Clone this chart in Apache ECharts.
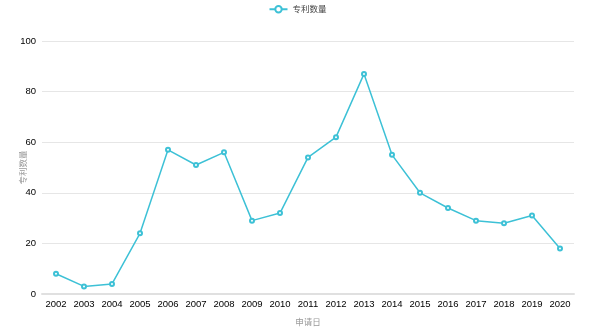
<!DOCTYPE html>
<html>
<head>
<meta charset="utf-8">
<script src="https://cdn.jsdelivr.net/npm/echarts@6/dist/echarts.min.js"></script>
<style>
  html, body { margin: 0; padding: 0; background: #fff; }
  #chart { width: 595px; height: 335px; }
</style>
</head>
<body>
<div id="chart"></div>
<script>
// Patent filings per application year
const years = ['2002', '2003', '2004', '2005', '2006', '2007', '2008', '2009', '2010', '2011',
               '2012', '2013', '2014', '2015', '2016', '2017', '2018', '2019', '2020'];
const patentCounts = [8, 3, 4, 24, 57, 51, 56, 29, 32, 54, 62, 87, 55, 40, 34, 29, 28, 31, 18];
const seriesName = '专利数量';
const xAxisName = '申请日';
const yAxisName = '专利数量';
const yTicks = { min: 0, max: 100, interval: 20 };

const lineColor = '#3dc1d6';
const cjkFont = '"Noto Sans CJK SC", "Noto Sans", sans-serif';
const numFont = '"Liberation Sans", Arial, sans-serif';

const chart = echarts.init(document.getElementById('chart'), null, { renderer: 'canvas' });
chart.setOption({
  animation: false,
  textStyle: { fontFamily: cjkFont },
  legend: {
    top: 0,
    left: 'center',
    itemWidth: 18,
    itemHeight: 8,
    textStyle: { fontSize: 8.5, color: '#444', fontFamily: cjkFont },
    data: [seriesName]
  },
  grid: { left: 42, right: 21, top: 41, bottom: 41, containLabel: false, outerBoundsMode: 'none' },
  xAxis: {
    type: 'category',
    data: years,
    boundaryGap: true,
    name: xAxisName,
    nameLocation: 'middle',
    nameGap: 24,
    nameMoveOverlap: false,
    nameTextStyle: { color: '#999', fontSize: 8.5, fontFamily: cjkFont },
    axisLine: { lineStyle: { color: '#e0e0e0', width: 2 } },
    axisTick: { show: false },
    axisLabel: { color: '#000', fontSize: 9.5, margin: 5, interval: 0, fontFamily: numFont },
  },
  yAxis: {
    type: 'value',
    min: yTicks.min,
    max: yTicks.max,
    interval: yTicks.interval,
    name: yAxisName,
    nameLocation: 'middle',
    nameGap: 15,
    nameMoveOverlap: false,
    nameRotate: 90,
    nameTextStyle: { color: '#999', fontSize: 8.5, fontFamily: cjkFont },
    axisLine: { show: false },
    axisTick: { show: false },
    axisLabel: { color: '#000', fontSize: 9.5, margin: 6, fontFamily: numFont },
    splitLine: { lineStyle: { color: '#e6e6e6', width: 1 } }
  },
  series: [{
    name: seriesName,
    type: 'line',
    data: patentCounts,
    symbol: 'emptyCircle',
    symbolSize: 4,
    itemStyle: { color: lineColor, borderWidth: 1 },
    lineStyle: { color: lineColor, width: 1.5 }
  }]
});
</script>
</body>
</html>
